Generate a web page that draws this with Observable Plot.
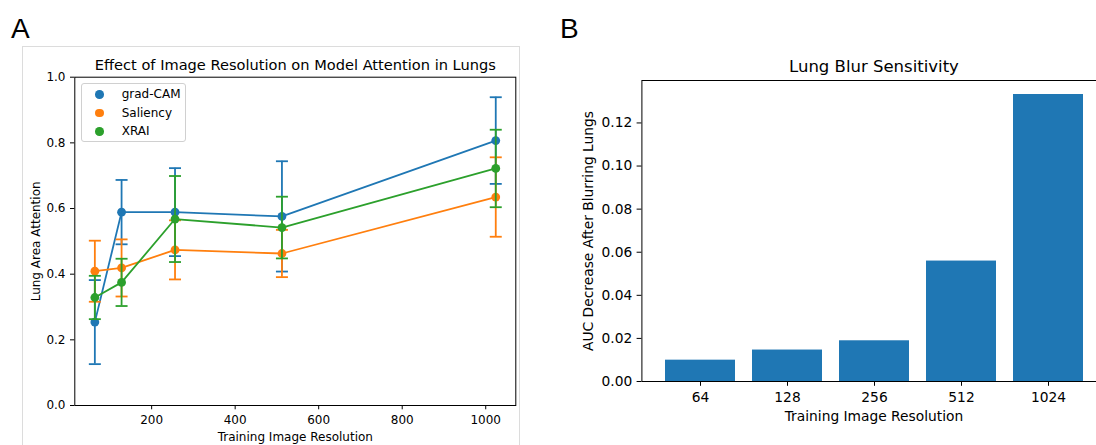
<!DOCTYPE html>
<html>
<head>
<meta charset="utf-8">
<script src="https://cdn.jsdelivr.net/npm/d3@7"></script>
<script src="https://cdn.jsdelivr.net/npm/@observablehq/plot@0.6"></script>
<style>
  html, body { margin: 0; padding: 0; background: #fff; }
  body { width: 1096px; height: 445px; overflow: hidden; position: relative; font-family: "DejaVu Sans", sans-serif; }
  #borderA { position: absolute; left: 22px; top: 46px; width: 498px; height: 430px; border: 1px solid #dcdcdc; box-sizing: border-box; }
  #panelA { position: absolute; left: 0; top: 0; width: 530px; height: 445px; }
  #panelB { position: absolute; left: 560px; top: 0; width: 550px; height: 445px; }
  #panelA g[aria-label$="tick label"] { font-size: 12px; font-family: "DejaVu Sans", sans-serif; }
  #panelB g[aria-label$="tick label"] { font-size: 13.8px; font-family: "DejaVu Sans", sans-serif; }
  .plabel { position: absolute; font-family: "Liberation Sans", Arial, sans-serif; font-size: 28px; line-height: 28px; color: #000; }
  #legend { position: absolute; left: 81px; top: 83px; width: 105px; height: 59px; border: 1px solid #d0d0d0; border-radius: 3px; background: rgba(255,255,255,0.8); box-sizing: border-box; }
  .ldot { position: absolute; width: 8.6px; height: 8.6px; border-radius: 50%; }
  .ltxt { position: absolute; font-size: 12px; line-height: 14px; color: #000; white-space: nowrap; }
</style>
</head>
<body>
<div id="borderA"></div>
<div id="panelA"></div>
<div id="panelB"></div>
<div class="plabel" style="left:11px; top:15px;">A</div>
<div class="plabel" style="left:560px; top:15px;">B</div>
<div id="legend"></div>
<script>
// ---------- Data ----------
const resolutions = [64, 128, 256, 512, 1024];
const seriesNames = ["grad-CAM", "Saliency", "XRAI"];
const seriesColors = ["#1f77b4", "#ff7f0e", "#2ca02c"];

const gradcamMean = [0.254, 0.589, 0.589, 0.576, 0.807];
const gradcamErr  = [0.128, 0.098, 0.134, 0.168, 0.132];
const saliencyMean = [0.409, 0.419, 0.474, 0.463, 0.635];
const saliencyErr  = [0.093, 0.087, 0.090, 0.072, 0.121];
const xraiMean = [0.329, 0.375, 0.568, 0.542, 0.722];
const xraiErr  = [0.066, 0.072, 0.131, 0.094, 0.118];

const blurLabels = ["64", "128", "256", "512", "1024"];
const blurAucDecrease = [0.0099, 0.0146, 0.0189, 0.0559, 0.1332];

const titleA = "Effect of Image Resolution on Model Attention in Lungs";
const xLabelA = "Training Image Resolution";
const yLabelA = "Lung Area Attention";
const xTicksA = [200, 400, 600, 800, 1000];
const yTicksA = [0, 0.2, 0.4, 0.6, 0.8, 1.0];

const titleB = "Lung Blur Sensitivity";
const xLabelB = "Training Image Resolution";
const yLabelB = "AUC Decrease After Blurring Lungs";
const yTicksB = [0, 0.02, 0.04, 0.06, 0.08, 0.10, 0.12];

// ---------- Build tables ----------
const means = [gradcamMean, saliencyMean, xraiMean];
const errs = [gradcamErr, saliencyErr, xraiErr];
const rows = [];
seriesNames.forEach((s, si) => {
  resolutions.forEach((r, i) => {
    rows.push({series: s, res: r, mean: means[si][i], lo: means[si][i] - errs[si][i], hi: means[si][i] + errs[si][i]});
  });
});
const bars = blurLabels.map((l, i) => ({res: l, value: blurAucDecrease[i]}));

// horizontal cap symbol for error bars
const capSymbol = {
  draw(ctx, size) {
    const w = Math.sqrt(size / Math.PI);
    ctx.moveTo(-w, 0);
    ctx.lineTo(w, 0);
  }
};

// ---------- Panel A ----------
const marksA = [];
for (const s of seriesNames) {
  const d = rows.filter(r => r.series === s);
  marksA.push(Plot.ruleX(d, {x: "res", y1: "lo", y2: "hi", stroke: "series", strokeWidth: 1.8}));
  marksA.push(Plot.dot(d, {x: "res", y: "hi", symbol: capSymbol, r: 6, stroke: "series", fill: "none", strokeWidth: 1.8}));
  marksA.push(Plot.dot(d, {x: "res", y: "lo", symbol: capSymbol, r: 6, stroke: "series", fill: "none", strokeWidth: 1.8}));
  marksA.push(Plot.line(d, {x: "res", y: "mean", stroke: "series", strokeWidth: 1.8}));
  marksA.push(Plot.dot(d, {x: "res", y: "mean", r: 4.4, fill: "series", stroke: "none"}));
}

const chartA = Plot.plot({
  width: 530,
  height: 445,
  marginLeft: 74.3,
  marginRight: 14.7,
  marginTop: 76.7,
  marginBottom: 40,
  style: {fontFamily: "DejaVu Sans, sans-serif", fontSize: "12px", color: "#000", background: "transparent", overflow: "visible"},
  x: {domain: [16, 1072]},
  y: {domain: [0, 1]},
  color: {domain: seriesNames, range: seriesColors},
  marks: [
    ...marksA,
    Plot.axisX({ticks: xTicksA, tickFormat: d => String(d), tickSize: 4.3, tickPadding: 5.5, label: null, stroke: "#000", fill: "#000", fontSize: 12}),
    Plot.axisY({ticks: yTicksA, tickFormat: d3.format(".1f"), tickSize: 4.3, tickPadding: 5, label: null, stroke: "#000", fill: "#000", fontSize: 12}),
    Plot.frame({stroke: "#000", strokeWidth: 1}),
    Plot.text([titleA], {text: d => d, frameAnchor: "top", dy: -12.3, fontSize: 14.6, lineAnchor: "middle", textAnchor: "middle", fill: "#000"}),
    Plot.text([xLabelA], {text: d => d, frameAnchor: "bottom", dy: 31.5, fontSize: 12, lineAnchor: "middle", textAnchor: "middle", fill: "#000"}),
    Plot.text([yLabelA], {text: d => d, frameAnchor: "left", dx: -38.3, rotate: -90, fontSize: 12, lineAnchor: "middle", textAnchor: "middle", fill: "#000"})
  ]
});
document.getElementById("panelA").appendChild(chartA);

// ---------- Legend ----------
const legend = document.getElementById("legend");
const rowY = [93.3, 112, 130.7];
seriesNames.forEach((s, i) => {
  const y = rowY[i] - 83;
  const dot = document.createElement("div");
  dot.className = "ldot";
  dot.style.background = seriesColors[i];
  dot.style.left = (98.7 - 81 - 4.3) + "px";
  dot.style.top = (y - 4.3) + "px";
  legend.appendChild(dot);
  const t = document.createElement("div");
  t.className = "ltxt";
  t.textContent = s;
  t.style.left = (120.7 - 81) + "px";
  t.style.top = (y - 7.5) + "px";
  legend.appendChild(t);
});

// ---------- Panel B ----------
const chartB = Plot.plot({
  width: 550,
  height: 445,
  marginLeft: 81.4,
  marginRight: 4.5,
  marginTop: 80,
  marginBottom: 64,
  style: {fontFamily: "DejaVu Sans, sans-serif", fontSize: "13.8px", color: "#000", background: "transparent", overflow: "visible"},
  x: {type: "band", domain: blurLabels, paddingInner: 0.2, paddingOuter: 0.24, align: 0.5},
  y: {domain: [0, 0.1397]},
  marks: [
    Plot.barY(bars, {x: "res", y: "value", fill: "#1f77b4"}),
    Plot.axisX({tickSize: 4.8, tickPadding: 5.9, label: null, stroke: "#000", fill: "#000", fontSize: 13.8}),
    Plot.axisY({ticks: yTicksB, tickFormat: d3.format(".2f"), tickSize: 4.8, tickPadding: 4.9, label: null, stroke: "#000", fill: "#000", fontSize: 13.8}),
    Plot.frame({stroke: "#000", strokeWidth: 1}),
    Plot.text([titleB], {text: d => d, frameAnchor: "top", dy: -13.8, fontSize: 16.5, lineAnchor: "middle", textAnchor: "middle", fill: "#000"}),
    Plot.text([xLabelB], {text: d => d, frameAnchor: "bottom", dy: 35.3, fontSize: 13.8, lineAnchor: "middle", textAnchor: "middle", fill: "#000"}),
    Plot.text([yLabelB], {text: d => d, frameAnchor: "left", dx: -53.4, rotate: -90, fontSize: 13.8, lineAnchor: "middle", textAnchor: "middle", fill: "#000"})
  ]
});
document.getElementById("panelB").appendChild(chartB);
</script>
</body>
</html>
